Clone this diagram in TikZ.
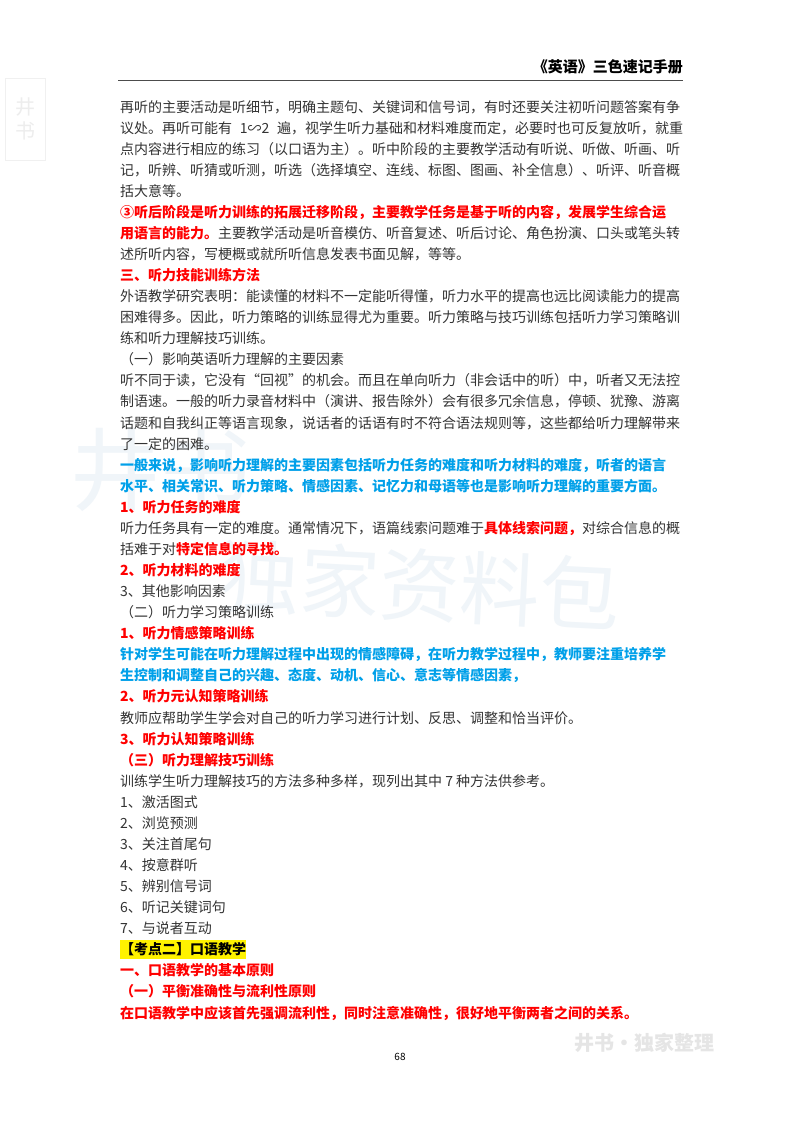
\documentclass[tikz,border=0pt]{standalone}
\usepackage{fontspec}
\setmainfont{Noto Sans CJK SC}
\XeTeXlinebreaklocale "zh"
\XeTeXlinebreakskip=0pt plus 3pt
\definecolor{tred}{HTML}{FF0000}
\definecolor{tblue}{HTML}{00A0E9}
\definecolor{tblack}{HTML}{333333}
\definecolor{wm}{HTML}{F0F5F9}
\newcommand{\jl}[1]{\makebox[563pt][s]{#1}}
\newcommand{\rb}[1]{{\color{tred}\bfseries #1}}
\begin{document}
\begin{tikzpicture}[x=1pt,y=-1pt,
  txt/.style={anchor=base west,inner sep=0pt,font=\fontsize{14pt}{16pt}\selectfont,text=tblack},
  red/.style={txt,text=tred,font=\fontsize{14pt}{16pt}\selectfont\bfseries},
  blue/.style={txt,text=tblue,font=\fontsize{14pt}{16pt}\selectfont\bfseries}]
\useasboundingbox[fill=white] (0,0) rectangle (800,1132);
% watermarks
\node[text=wm,font=\fontsize{80pt}{80pt}\selectfont,rotate=-3] (wm1) at (420,585) {独家资料包};
\node[text=wm,font=\fontsize{90pt}{90pt}\selectfont] (wm2) at (160,470) {井书};
\node[text=black!10,font=\fontsize{20pt}{20pt}\selectfont\bfseries,anchor=east] (wm3) at (718,1043) {井书·独家整理};
\draw[black!6,line width=1pt] (5,78) rectangle (45,160);
\node[text=black!7,font=\fontsize{20pt}{24pt}\selectfont,align=center] (wm4) at (25,119) {井\\书};
% header
\node[anchor=base east,inner sep=0pt,font=\fontsize{15pt}{16pt}\selectfont\bfseries] (hd) at (683,73) {《英语》三色速记手册};
\coordinate (r1) at (118,80); \coordinate (r2) at (683,80);
\draw[black!70,line width=0.8pt] (r1) -- (r2);
\def\Y#1{\fpeval{112+21.07*(#1-1)}}
\node[txt] (l1) at (120,\Y{1}) {\jl{再听的主要活动是听细节，明确主题句、关键词和信号词，有时还要关注初听问题答案有争}};
\node[txt] (l2) at (120,\Y{2}) {\jl{议处。再听可能有 1∽2 遍，视学生听力基础和材料难度而定，必要时也可反复放听，就重}};
\node[txt] (l3) at (120,\Y{3}) {\jl{点内容进行相应的练习（以口语为主）。听中阶段的主要教学活动有听说、听做、听画、听}};
\node[txt] (l4) at (120,\Y{4}) {\jl{记，听辨、听猜或听测，听选（选择填空、连线、标图、图画、补全信息）、听评、听音概}};
\node[txt] (l5) at (120,\Y{5}) {括大意等。};
\node[red] (l6) at (120,\Y{6}) {\jl{③听后阶段是听力训练的拓展迁移阶段，主要教学任务是基于听的内容，发展学生综合运}};
\node[txt] (l7) at (120,\Y{7}) {\jl{\rb{用语言的能力。}主要教学活动是听音模仿、听音复述、听后讨论、角色扮演、口头或笔头转}};
\node[txt] (l8) at (120,\Y{8}) {述所听内容，写梗概或就所听信息发表书面见解，等等。};
\node[red] (l9) at (120,\Y{9}) {三、听力技能训练方法};
\node[txt] (l10) at (120,\Y{10}) {\jl{外语教学研究表明：能读懂的材料不一定能听得懂，听力水平的提高也远比阅读能力的提高}};
\node[txt] (l11) at (120,\Y{11}) {\jl{困难得多。因此，听力策略的训练显得尤为重要。听力策略与技巧训练包括听力学习策略训}};
\node[txt] (l12) at (120,\Y{12}) {练和听力理解技巧训练。};
\node[txt] (l13) at (120,\Y{13}) {（一）影响英语听力理解的主要因素};
\node[txt] (l14) at (120,\Y{14}) {\jl{听不同于读，它没有“回视”的机会。而且在单向听力（非会话中的听）中，听者又无法控}};
\node[txt] (l15) at (120,\Y{15}) {\jl{制语速。一般的听力录音材料中（演讲、报告除外）会有很多冗余信息，停顿、犹豫、游离}};
\node[txt] (l16) at (120,\Y{16}) {\jl{话题和自我纠正等语言现象，说话者的话语有时不符合语法规则等，这些都给听力理解带来}};
\node[txt] (l17) at (120,\Y{17}) {了一定的困难。};
\node[blue] (l18) at (120,\Y{18}) {\jl{一般来说，影响听力理解的主要因素包括听力任务的难度和听力材料的难度，听者的语言}};
\node[blue] (l19) at (120,\Y{19}) {水平、相关常识、听力策略、情感因素、记忆力和母语等也是影响听力理解的重要方面。};
\node[red] (l20) at (120,\Y{20}) {1、听力任务的难度};
\node[txt] (l21) at (120,\Y{21}) {\jl{听力任务具有一定的难度。通常情况下，语篇线索问题难于\rb{具体线索问题，}对综合信息的概}};
\node[txt] (l22) at (120,\Y{22}) {括难于对\rb{特定信息的寻找。}};
\node[red] (l23) at (120,\Y{23}) {2、听力材料的难度};
\node[txt] (l24) at (120,\Y{24}) {3、其他影响因素};
\node[txt] (l25) at (120,\Y{25}) {（二）听力学习策略训练};
\node[red] (l26) at (120,\Y{26}) {1、听力情感策略训练};
\node[blue] (l27) at (120,\Y{27}) {\jl{针对学生可能在听力理解过程中出现的情感障碍，在听力教学过程中，教师要注重培养学}};
\node[blue] (l28) at (120,\Y{28}) {生控制和调整自己的兴趣、态度、动机、信心、意志等情感因素，};
\node[red] (l29) at (120,\Y{29}) {2、听力元认知策略训练};
\node[txt] (l30) at (120,\Y{30}) {教师应帮助学生学会对自己的听力学习进行计划、反思、调整和恰当评价。};
\node[red] (l31) at (120,\Y{31}) {3、听力认知策略训练};
\node[red] (l32) at (120,\Y{32}) {（三）听力理解技巧训练};
\node[txt] (l33) at (120,\Y{33}) {训练学生听力理解技巧的方法多种多样，现列出其中 7 种方法供参考。};
\node[txt] (l34) at (120,\Y{34}) {1、激活图式};
\node[txt] (l35) at (120,\Y{35}) {2、浏览预测};
\node[txt] (l36) at (120,\Y{36}) {3、关注首尾句};
\node[txt] (l37) at (120,\Y{37}) {4、按意群听};
\node[txt] (l38) at (120,\Y{38}) {5、辨别信号词};
\node[txt] (l39) at (120,\Y{39}) {6、听记关键词句};
\node[txt] (l40) at (120,\Y{40}) {7、与说者互动};
\node[txt,text=black,font=\fontsize{14pt}{16pt}\selectfont\bfseries,fill=yellow,inner ysep=3pt] (l41) at (120,\Y{41}) {【考点二】口语教学};
\node[red] (l42) at (120,\Y{42}) {一、口语教学的基本原则};
\node[red] (l43) at (120,\Y{43}) {（一）平衡准确性与流利性原则};
\node[red] (l44) at (120,\Y{44}) {在口语教学中应该首先强调流利性，同时注意准确性，很好地平衡两者之间的关系。};
\node[font=\fontsize{10pt}{12pt}\selectfont] (pg) at (400,1057) {68};
\end{tikzpicture}
\end{document}
